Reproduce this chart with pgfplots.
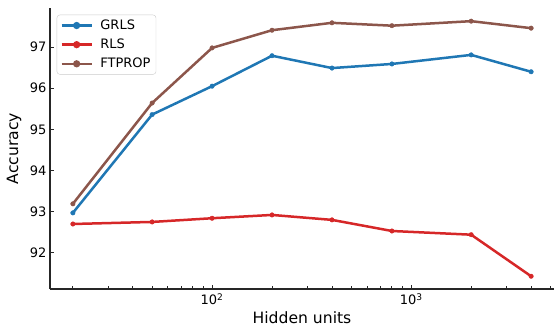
\documentclass[border=0pt]{standalone}
\usepackage{pgfplots}
\pgfplotsset{compat=1.18}
\usepackage{fontspec}
\setmainfont{DejaVu Sans}
\definecolor{tabblue}{HTML}{1F77B4}
\definecolor{tabred}{HTML}{D62728}
\definecolor{tabbrown}{HTML}{8C564B}
\begin{document}
\begin{tikzpicture}[x=1pt,y=1pt]
\useasboundingbox (-50pt,-38pt) rectangle (504pt,289pt);
\begin{axis}[
  at={(0pt,0pt)}, anchor=south west,
  width=504pt, height=281pt, scale only axis,
  xmode=log, xmin=15.35, xmax=5212, ymin=91.12, ymax=97.95,
  axis x line*=bottom, axis y line*=left,
  axis line style={-, black!85, line width=1.1pt},
  ytick={92,93,94,95,96,97},
  xtick={100,1000}, xticklabels={10\textsuperscript{2},10\textsuperscript{3}},
  minor xtick={20,30,40,50,60,70,80,90,200,300,400,500,600,700,800,900,2000,3000,4000,5000},
  tick align=inside,
  major tick length=4.5pt, minor tick length=2.6pt,
  every tick/.style={black!85, line width=0.9pt},
  /pgf/number format/assume math mode=true,
  tick label style={font=\fontsize{13}{15}\selectfont},
  xticklabel style={yshift=-1pt},
  xlabel={Hidden units}, ylabel={Accuracy},
  every axis y label/.style={at={(axis description cs:0,0.5)}, rotate=90, anchor=center, yshift=36pt, font=\fontsize{15.6}{18}\selectfont},
  every axis x label/.style={at={(axis description cs:0.5,0)}, anchor=center, yshift=-29pt, font=\fontsize{15.6}{18}\selectfont},
  legend style={at={(0.0133,0.976)}, anchor=north west, draw=black!20, rounded corners=3pt,
    fill=white, fill opacity=0.8, text opacity=1, font=\fontsize{13}{15}\selectfont,
    inner xsep=3.5pt, inner ysep=3pt, row sep=4pt,
    nodes={font=\fontsize{13}{15}\selectfont, inner sep=2pt},
    /tikz/every odd column/.append style={column sep=5.5pt}},
  legend cell align=left,
  legend image code/.code={\draw[line width=2.5pt] (0pt,0pt) -- (30pt,0pt); \fill (15pt,0pt) circle (2.3pt);},
  every axis plot/.append style={line width=2.5pt, mark=*, mark size=2.3pt, mark options={solid, line width=0.3pt}},
]
\addplot[tabblue] coordinates {(20,92.97) (50,95.36) (100,96.05) (200,96.79) (400,96.49) (800,96.59) (2000,96.81) (4000,96.40)};
\addlegendentry{GRLS}
\addplot[tabred] coordinates {(20,92.70) (50,92.75) (100,92.84) (200,92.92) (400,92.80) (800,92.53) (2000,92.44) (4000,91.43)};
\addlegendentry{RLS}
\addplot[tabbrown] coordinates {(20,93.19) (50,95.64) (100,96.98) (200,97.41) (400,97.59) (800,97.52) (2000,97.63) (4000,97.46)};
\addlegendentry{FTPROP}
\end{axis}
\end{tikzpicture}
\end{document}
